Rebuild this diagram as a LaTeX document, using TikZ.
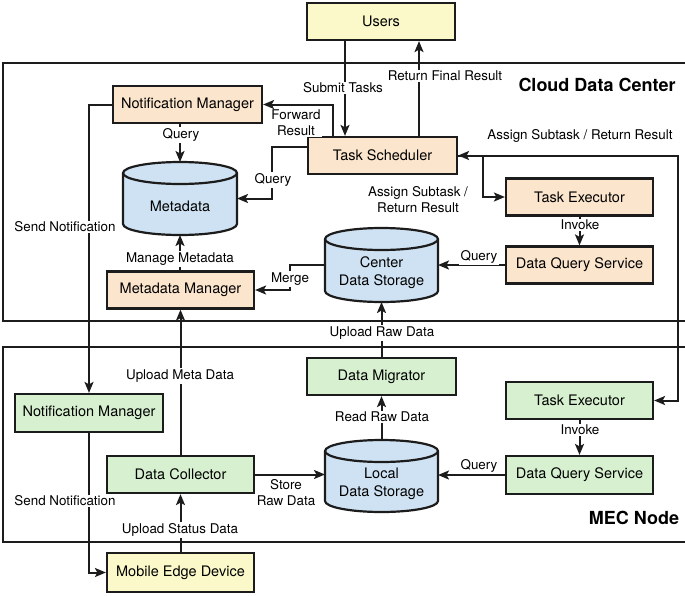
\documentclass[tikz,border=0pt]{standalone}
\usepackage{fontspec}
\setmainfont{TeX Gyre Heros}
\usetikzlibrary{arrows.meta,calc}

\definecolor{ink}{RGB}{28,28,28}
\definecolor{peach}{RGB}{251,229,204}
\definecolor{mint}{RGB}{214,240,208}
\definecolor{cream}{RGB}{251,249,201}
\definecolor{sky}{RGB}{207,226,243}

% drum-shaped store: #1 name, #2 centre, #3 width, #4 height, #5 half width
\newcommand\drumstore[5]{%
  \node[drumnode, minimum width=#3, minimum height=#4] (#1) at #2 {};
  \draw[drumline, fill=sky]
    ([yshift=-11pt]#1.north west) -- ([yshift=11pt]#1.south west)
    arc[start angle=180, end angle=360, x radius=#5, y radius=11pt]
    -- ([yshift=-11pt]#1.north east)
    arc[start angle=0, end angle=180, x radius=#5, y radius=11pt] -- cycle;
  \draw[drumline] ([yshift=-11pt]#1.north west)
    arc[start angle=180, end angle=360, x radius=#5, y radius=11pt];
}

\begin{document}
\begin{tikzpicture}[x=1pt, y=-1pt,
  box/.style={draw=ink, line width=2.2pt, inner sep=0pt,
    minimum width=147pt, minimum height=37pt,
    font=\fontsize{14.5}{17}\selectfont},
  cloudbox/.style={box, fill=peach},
  edgebox/.style={box, fill=mint},
  endbox/.style={box, fill=cream},
  drumnode/.style={inner sep=0pt, outer sep=0pt},
  drumline/.style={draw=ink, line width=2.2pt},
  drumtext/.style={align=center, font=\fontsize{14.5}{18}\selectfont},
  tip/.tip={Stealth[length=11pt,width=9pt,inset=2.5pt]},
  link/.style={draw=ink, line width=2pt, -tip},
  twoway/.style={draw=ink, line width=2pt, tip-tip},
  lbl/.style={fill=white, inner sep=1.2pt, align=center,
    font=\fontsize{13.4}{16}\selectfont},
  frame/.style={draw=ink, line width=2.5pt},
  zone/.style={font=\fontsize{18}{20}\selectfont\bfseries}
]
\useasboundingbox (0,0) rectangle (685,595);
\clip (0,0) rectangle (685,595);

% the two zones, open on the right
\draw[frame] (700,63) -- (3,63) -- (3,321) -- (700,321);
\draw[frame] (700,347) -- (3,347) -- (3,542) -- (700,542);
\node[zone] (cdc) at (597,85) {Cloud Data Center};
\node[zone] (mec) at (634,518) {MEC Node};

% helper columns and corners
\coordinate (sx) at (345,0);
\coordinate (rx) at (419,0);
\coordinate (fx) at (333,0);
\coordinate (ex) at (678,0);

% nodes
\node[endbox, minimum width=148pt] (users) at (381,21.5) {Users};
\node[cloudbox, minimum width=149pt] (nmc) at (187.5,104.5) {Notification Manager};
\node[cloudbox, minimum width=149pt] (ts) at (382.5,155.5) {Task Scheduler};
\node[cloudbox] (tec) at (579.5,197) {Task Executor};
\node[cloudbox] (dqc) at (579.5,265) {Data Query Service};
\node[cloudbox] (mm) at (180.5,290) {Metadata Manager};

\drumstore{meta}{(180,198.5)}{114pt}{73pt}{57pt}
\node[drumtext] at ([yshift=-8pt]meta.center) {Metadata};
\drumstore{cds}{(381.5,265)}{113pt}{74pt}{56.5pt}
\node[drumtext] at ([yshift=-8pt]cds.center) {Center\\Data Storage};

\node[edgebox, minimum width=149pt] (dm) at (381.5,376.5) {Data Migrator};
\node[edgebox, minimum width=148pt, minimum height=38pt] (nmm) at (89,413) {Notification Manager};
\node[edgebox] (tem) at (579.5,400.5) {Task Executor};
\node[edgebox] (dc) at (180.5,474.5) {Data Collector};
\drumstore{lds}{(381.5,476)}{113pt}{72pt}{56.5pt}
\node[drumtext] at ([yshift=-8pt]lds.center) {Local\\Data Storage};
\node[edgebox, minimum height=38pt] (dqm) at (579.5,475) {Data Query Service};
\node[endbox, minimum height=39pt] (med) at (180.5,572.5) {Mobile Edge Device};

% cloud connectors
\draw[link] (users.south -| sx) -- (ts.north -| sx);
\draw[link] (ts.north -| rx) -- (users.south -| rx);
\draw[link] (ts.north -| fx) |- (nmc.east);
\draw[link] (nmc.south -| meta.north) -- (meta.north);
\draw[link] ([yshift=8.5pt]ts.west) -- ++(-35,0) |- (meta.east);
\draw[link] (nmc.west) -| (nmm.north);
\draw[link] (mm.north -| meta.south) -- (meta.south);
\draw[link] (cds.west) -- ++(-35,0) |- (mm.east);
\draw[link] (dqc.west) -- (cds.east);
\draw[link] (tec.south) -- (dqc.north);
\draw[link] (ts.east) -- ++(25,0) |- (tec.west);
\draw[twoway] (ts.east) -- (ts.east -| ex) |- (tem.east);

% MEC connectors
\draw[link] (dc.north) -- (mm.south);
\draw[link] (dc.east) -- (dc.east -| lds.west);
\draw[link] (lds.north) -- (dm.south);
\draw[link] (dm.north) -- (cds.south);
\draw[link] (tem.south) -- (dqm.north);
\draw[link] (dqm.west) -- (dqm.west -| lds.east);
\draw[link] (nmm.south) |- (med.west);
\draw[link] (med.north) -- (dc.south);

% connector labels
\node[lbl] (l1) at (343,88) {Submit Tasks};
\node[lbl] (l2) at (445,76) {Return Final Result};
\node[lbl] (l3) at (296,123) {Forward\\Result};
\node[lbl] (l4) at (181,135) {Query};
\node[lbl] (l5) at (273,180) {Query};
\node[lbl] (l6) at (65,227) {Send Notification};
\node[lbl] (l7) at (180,259) {Manage Metadata};
\node[lbl] (l8) at (290,279) {Merge};
\node[lbl] (l9) at (479,257) {Query};
\node[lbl] (l10) at (580,225) {Invoke};
\node[lbl] (l11) at (418,200) {Assign Subtask /\\Return Result};
\node[lbl] (l12) at (580,136) {Assign Subtask / Return Result};
\node[lbl] (l13) at (382,333) {Upload Raw Data};
\node[lbl] (l14) at (180,376) {Upload Meta Data};
\node[lbl] (l15) at (382,417) {Read Raw Data};
\node[lbl] (l16) at (580,430) {Invoke};
\node[lbl] (l17) at (286,493) {Store\\Raw Data};
\node[lbl] (l18) at (479,466) {Query};
\node[lbl] (l19) at (65,501) {Send Notification};
\node[lbl] (l20) at (180,530) {Upload Status Data};
\end{tikzpicture}
\end{document}
